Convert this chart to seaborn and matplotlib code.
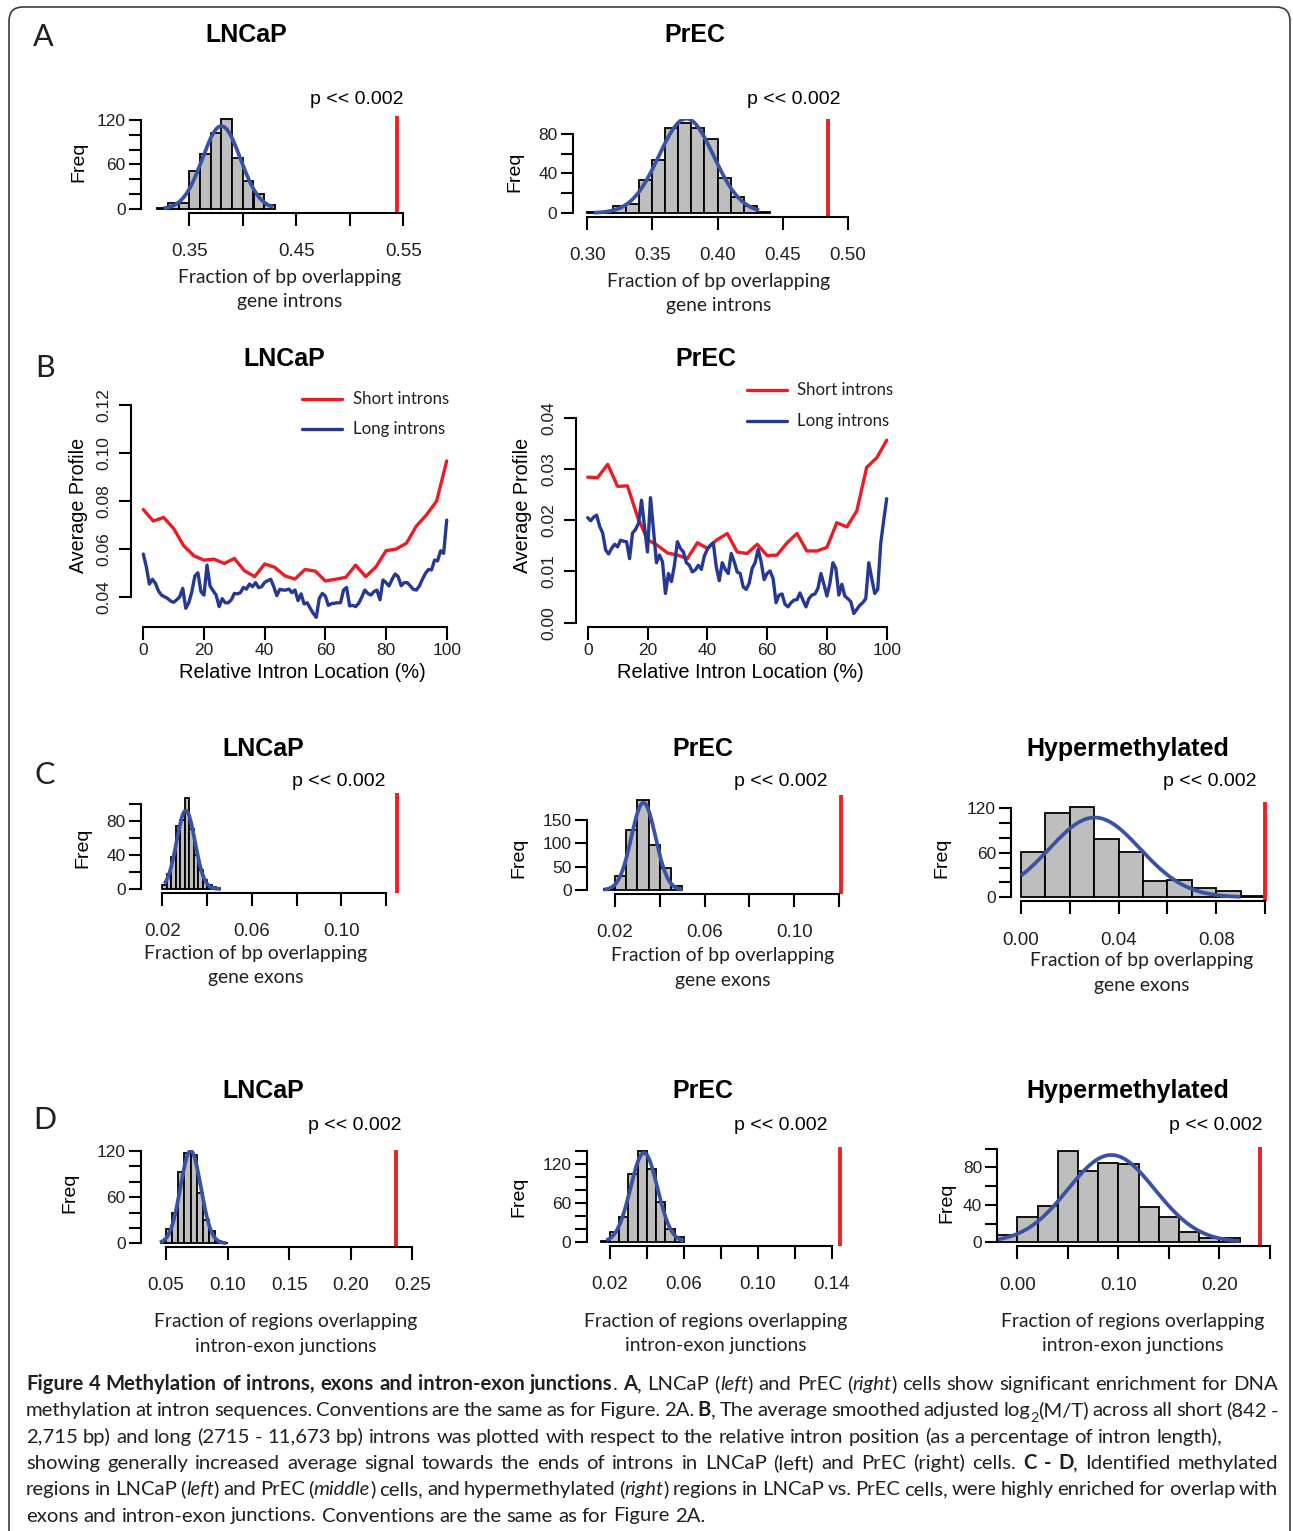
import numpy as np
import pandas as pd
import matplotlib
matplotlib.use("Agg")
import matplotlib.pyplot as plt
import seaborn as sns
from matplotlib.patches import FancyBboxPatch
from matplotlib.lines import Line2D
from matplotlib.transforms import IdentityTransform

# ======================= DATA =======================
# ---- Panel A : LNCaP (introns) ----
A1_BIN_START, A1_BIN_WIDTH = 0.32, 0.01
A1_COUNTS = [2, 8, 8, 51, 74, 103, 121, 69, 38, 20, 5]
A1_FIT = [0.380, 0.0178]          # mean, sd of fitted normal
A1_FIT_RANGE = [0.326, 0.4285]
A1_OBSERVED = 0.544
A1_XTICKS = [0.35, 0.40, 0.45, 0.50, 0.55]
A1_XTICKLABELS = ["0.35", "", "0.45", "", "0.55"]
A1_YTICKS = [0, 20, 40, 60, 80, 100, 120]
A1_YTICKLABELS = ["0", "", "", "60", "", "", "120"]

# ---- Panel A : PrEC (introns) ----
A2_BIN_START, A2_BIN_WIDTH = 0.30, 0.01
A2_COUNTS = [1, 1, 7, 9, 33, 53, 86, 91, 86, 75, 35, 16, 7, 1]
A2_FIT = [0.376, 0.021]
A2_FIT_RANGE = [0.305, 0.432]
A2_OBSERVED = 0.485
A2_XTICKS = [0.30, 0.35, 0.40, 0.45, 0.50]
A2_XTICKLABELS = ["0.30", "0.35", "0.40", "0.45", "0.50"]
A2_YTICKS = [0, 20, 40, 60, 80]
A2_YTICKLABELS = ["0", "", "40", "", "80"]

# ---- Panel B : average profiles ----
B_SHORT_X = [0, 3.3, 6.7, 10, 13.3, 16.7, 20, 23.3, 26.7, 30, 33.3, 36.7, 40, 43.3, 46.7, 50,
             53.3, 56.7, 60, 63.3, 66.7, 70, 73.3, 76.7, 80, 83.3, 86.7, 90, 93.3, 96.7, 100]
B_LONG_X = list(range(0, 101))
B1_SHORT = [0.0765, 0.0717, 0.0732, 0.0686, 0.0614, 0.0572, 0.0554, 0.0558, 0.0540, 0.0561,
            0.0510, 0.0485, 0.0538, 0.0524, 0.0488, 0.0475, 0.0515, 0.0508, 0.0467, 0.0474,
            0.0482, 0.0533, 0.0485, 0.0526, 0.0593, 0.0600, 0.0624, 0.0696, 0.0742, 0.0801, 0.0968]
B1_LONG = [0.0579, 0.0526, 0.0454, 0.0474, 0.0457, 0.0425, 0.0408, 0.0401, 0.0394, 0.0383,
           0.0378, 0.0388, 0.0401, 0.0436, 0.0353, 0.0376, 0.0422, 0.0488, 0.0501, 0.0422,
           0.0408, 0.0533, 0.0446, 0.0426, 0.0408, 0.0360, 0.0393, 0.0376, 0.0376, 0.0388,
           0.0415, 0.0413, 0.0418, 0.0440, 0.0433, 0.0454, 0.0443, 0.0460, 0.0439, 0.0443,
           0.0461, 0.0468, 0.0474, 0.0443, 0.0406, 0.0432, 0.0429, 0.0429, 0.0433, 0.0418,
           0.0429, 0.0385, 0.0413, 0.0371, 0.0376, 0.0353, 0.0332, 0.0315, 0.0394, 0.0415,
           0.0404, 0.0365, 0.0372, 0.0374, 0.0376, 0.0376, 0.0429, 0.0440, 0.0363, 0.0365,
           0.0360, 0.0374, 0.0399, 0.0429, 0.0415, 0.0408, 0.0422, 0.0429, 0.0388, 0.0471,
           0.0460, 0.0446, 0.0474, 0.0496, 0.0485, 0.0447, 0.0460, 0.0460, 0.0446, 0.0432,
           0.0429, 0.0446, 0.0474, 0.0499, 0.0515, 0.0513, 0.0554, 0.0551, 0.0593, 0.0582,
           0.0721]
B2_SHORT = [0.0284, 0.0283, 0.0309, 0.0266, 0.0267, 0.0206, 0.0162, 0.0151, 0.0136, 0.0132,
            0.0125, 0.0156, 0.0145, 0.0162, 0.0174, 0.0138, 0.0135, 0.0153, 0.0131, 0.0132,
            0.0156, 0.0174, 0.0140, 0.0140, 0.0147, 0.0195, 0.0187, 0.0218, 0.0303, 0.0322, 0.0356]
B2_LONG = [0.0205, 0.0199, 0.0206, 0.0210, 0.0188, 0.0175, 0.0142, 0.0134, 0.0145, 0.0153,
           0.0148, 0.0161, 0.0159, 0.0158, 0.0125, 0.0175, 0.0182, 0.0194, 0.0239, 0.0187,
           0.0138, 0.0244, 0.0181, 0.0117, 0.0132, 0.0119, 0.0057, 0.0096, 0.0080, 0.0112,
           0.0158, 0.0145, 0.0138, 0.0117, 0.0112, 0.0099, 0.0103, 0.0112, 0.0104, 0.0130,
           0.0143, 0.0151, 0.0156, 0.0109, 0.0082, 0.0117, 0.0104, 0.0096, 0.0135, 0.0119,
           0.0099, 0.0096, 0.0070, 0.0065, 0.0077, 0.0106, 0.0117, 0.0143, 0.0119, 0.0084,
           0.0096, 0.0101, 0.0086, 0.0039, 0.0054, 0.0056, 0.0036, 0.0031, 0.0039, 0.0044,
           0.0045, 0.0058, 0.0044, 0.0031, 0.0047, 0.0054, 0.0056, 0.0067, 0.0096, 0.0075,
           0.0052, 0.0077, 0.0117, 0.0106, 0.0054, 0.0075, 0.0052, 0.0047, 0.0041, 0.0018,
           0.0026, 0.0034, 0.0039, 0.0047, 0.0117, 0.0086, 0.0057, 0.0065, 0.0155, 0.0200,
           0.0242]
B_XTICKS = [0, 20, 40, 60, 80, 100]
B_XTICKLABELS = ["0", "20", "40", "60", "80", "100"]
B1_YTICKS = [0.04, 0.06, 0.08, 0.10, 0.12]
B1_YTICKLABELS = ["0.04", "0.06", "0.08", "0.10", "0.12"]
B2_YTICKS = [0.00, 0.01, 0.02, 0.03, 0.04]
B2_YTICKLABELS = ["0.00", "0.01", "0.02", "0.03", "0.04"]
B_LEGEND = ["Short introns", "Long introns"]

# ---- Panel C : exons ----
C1_BIN_START, C1_BIN_WIDTH = 0.020, 0.002
C1_COUNTS = [5, 18, 37, 74, 81, 107, 70, 40, 22, 10, 5, 2, 1]
C1_FIT = [0.0305, 0.0041]
C1_FIT_RANGE = [0.021, 0.046]
C1_OBSERVED = 0.1251
C1_XTICKS = [0.02, 0.04, 0.06, 0.08, 0.10, 0.12]
C1_XTICKLABELS = ["0.02", "", "0.06", "", "0.10", ""]
C1_YTICKS = [0, 20, 40, 60, 80, 100]
C1_YTICKLABELS = ["0", "", "40", "", "80", ""]

C2_BIN_START, C2_BIN_WIDTH = 0.015, 0.005
C2_COUNTS = [2, 29, 129, 193, 96, 48, 9]
C2_FIT = [0.0327, 0.0054]
C2_FIT_RANGE = [0.015, 0.050]
C2_OBSERVED = 0.1208
C2_XTICKS = [0.02, 0.04, 0.06, 0.08, 0.10, 0.12]
C2_XTICKLABELS = ["0.02", "", "0.06", "", "0.10", ""]
C2_YTICKS = [0, 50, 100, 150]
C2_YTICKLABELS = ["0", "50", "100", "150"]

C3_BIN_START, C3_BIN_WIDTH = 0.0, 0.01
C3_COUNTS = [61, 113, 122, 78, 61, 22, 23, 13, 9, 2]
C3_FIT = [0.0302, 0.0187]
C3_FIT_RANGE = [0.0, 0.09]
C3_OBSERVED = 0.0999
C3_XTICKS = [0.00, 0.02, 0.04, 0.06, 0.08, 0.10]
C3_XTICKLABELS = ["0.00", "", "0.04", "", "0.08", ""]
C3_YTICKS = [0, 20, 40, 60, 80, 100, 120]
C3_YTICKLABELS = ["0", "", "", "60", "", "", "120"]

# ---- Panel D : intron-exon junctions ----
D1_BIN_START, D1_BIN_WIDTH = 0.045, 0.005
D1_COUNTS = [1, 18, 40, 93, 117, 115, 66, 30, 16, 3, 1]
D1_FIT = [0.070, 0.0083]
D1_FIT_RANGE = [0.045, 0.099]
D1_OBSERVED = 0.2364
D1_XTICKS = [0.05, 0.10, 0.15, 0.20, 0.25]
D1_XTICKLABELS = ["0.05", "0.10", "0.15", "0.20", "0.25"]
D1_YTICKS = [0, 20, 40, 60, 80, 100, 120]
D1_YTICKLABELS = ["0", "", "", "60", "", "", "120"]

D2_BIN_START, D2_BIN_WIDTH = 0.015, 0.005
D2_COUNTS = [1, 16, 39, 104, 140, 112, 62, 20, 8]
D2_FIT = [0.0384, 0.0073]
D2_FIT_RANGE = [0.018, 0.060]
D2_OBSERVED = 0.1443
D2_XTICKS = [0.02, 0.04, 0.06, 0.08, 0.10, 0.12, 0.14]
D2_XTICKLABELS = ["0.02", "", "0.06", "", "0.10", "", "0.14"]
D2_YTICKS = [0, 20, 40, 60, 80, 100, 120, 140]
D2_YTICKLABELS = ["0", "", "", "60", "", "", "120", ""]

D3_BIN_START, D3_BIN_WIDTH = -0.02, 0.02
D3_COUNTS = [8, 27, 39, 97, 76, 85, 84, 38, 27, 11, 5, 5]
D3_FIT = [0.093, 0.043]
D3_FIT_RANGE = [-0.02, 0.22]
D3_OBSERVED = 0.2398
D3_XTICKS = [0.00, 0.05, 0.10, 0.15, 0.20, 0.25]
D3_XTICKLABELS = ["0.00", "", "0.10", "", "0.20", ""]
D3_YTICKS = [0, 20, 40, 60, 80, 100]
D3_YTICKLABELS = ["0", "", "40", "", "80", ""]

P_TEXT = "p << 0.002"

CAPTION_LINES = [
    [("Figure 4 Methylation of introns, exons and intron-exon junctions", "b"), (". ", "n"),
     ("A", "b"), (", LNCaP (", "n"), ("left", "i"), (") and PrEC (", "n"), ("right", "i"),
     (") cells show significant enrichment for DNA", "n")],
    [("methylation at intron sequences. Conventions are the same as for Figure. 2A. ", "n"),
     ("B", "b"), (", The average smoothed adjusted log", "n"), ("2", "sub"),
     ("(M/T) across all short (842 -", "n")],
    [("2,715 bp) and long (2715 - 11,673 bp) introns was plotted with respect to the relative "
      "intron position (as a percentage of intron length),", "n")],
    [("showing generally increased average signal towards the ends of introns in LNCaP (left) "
      "and PrEC (right) cells. ", "n"), ("C - D", "b"), (", Identified methylated", "n")],
    [("regions in LNCaP (", "n"), ("left", "i"), (") and PrEC (", "n"), ("middle", "i"),
     (") cells, and hypermethylated (", "n"), ("right", "i"),
     (") regions in LNCaP vs. PrEC cells, were highly enriched for overlap with", "n")],
    [("exons and intron-exon junctions. Conventions are the same as for Figure 2A.", "n")],
]
CAPTION_JUSTIFY = [True, True, False, True, True, False]

# ======================= STYLE =======================
W, H = 1293, 1531
sns.set_theme(style="ticks")
plt.rcParams['font.family'] = ['Liberation Sans', 'DejaVu Sans']
SANS = ['Liberation Sans', 'DejaVu Sans']
HUM = ['Lato', 'DejaVu Sans']
TXT = '#231F20'
BAR = '#BEBEBE'
FIT_BLUE = '#3953A4'
OBS_RED = '#ED2024'
LINE_RED = '#EC1C24'
LINE_BLUE = '#263893'

fig = plt.figure(figsize=(W / 100, H / 100), dpi=100)
fig.patch.set_facecolor('white')
renderer = fig.canvas.get_renderer()


def measure(s, size, **kw):
    t = fig.text(0, 0, s, fontsize=size, **kw)
    w = t.get_window_extent(renderer=renderer).width
    t.remove()
    return w


def fit_size(s, target, **kw):
    return 20.0 * target / measure(s, 20.0, **kw)


def ftext(x, y, s, **kw):
    kw.setdefault('ha', 'center')
    kw.setdefault('va', 'center')
    kw.setdefault('color', TXT)
    return fig.text(x / W, 1 - y / H, s, **kw)


def make_axes(xmap, ymap, xlim, ylim):
    (xa, pxa), (xb, pxb) = xmap
    sx = (pxb - pxa) / (xb - xa)
    left = pxa + (xlim[0] - xa) * sx
    right = pxa + (xlim[1] - xa) * sx
    (ya, pya), (yb, pyb) = ymap
    sy = (pyb - pya) / (yb - ya)
    bottom = pya + (ylim[0] - ya) * sy
    top = pya + (ylim[1] - ya) * sy
    ax = fig.add_axes([left / W, 1 - bottom / H, (right - left) / W, (bottom - top) / H])
    ax.patch.set_visible(False)
    return ax


def style_axes(ax, xlim, ylim, xt, xtl, yt, ytl, xfs, yfs, xpad, ypad, yrot=0):
    ax.set_xlim(xlim)
    ax.set_ylim(ylim)
    ax.spines[['top', 'right']].set_visible(False)
    for s in ('left', 'bottom'):
        ax.spines[s].set_linewidth(1.5)
        ax.spines[s].set_color('black')
    ax.spines['left'].set_bounds(yt[0], yt[-1])
    ax.spines['bottom'].set_bounds(xt[0], xt[-1])
    ax.set_xticks(xt, labels=xtl)
    ax.set_yticks(yt, labels=ytl)
    ax.tick_params(axis='x', direction='out', length=9, width=1.5, color='black',
                   labelcolor=TXT, labelsize=xfs, pad=xpad)
    ax.tick_params(axis='y', direction='out', length=9, width=1.5, color='black',
                   labelcolor=TXT, labelsize=yfs, pad=ypad, labelrotation=yrot)
    if yrot:
        for lb in ax.get_yticklabels():
            lb.set_va('center')
    ax.set_xlabel('')
    ax.set_ylabel('')
    ax.grid(False)


def hist_panel(start, bw, counts, fit, fit_range, obs, xt, xtl, yt, ytl, lay):
    ax = make_axes(lay['xmap'], lay['ymap'], lay['xlim'], lay['ylim'])
    counts = np.asarray(counts, float)
    edges = start + bw * np.arange(len(counts) + 1)
    df = pd.DataFrame({'value': edges[:-1] + bw / 2, 'count': counts})
    sns.histplot(data=df, x='value', weights='count', bins=edges.tolist(), ax=ax, color=BAR,
                 alpha=1, edgecolor='black', linewidth=1.3)
    n = counts.sum()
    xs = np.linspace(fit_range[0], fit_range[1], 300)
    ys = n * bw * np.exp(-0.5 * ((xs - fit[0]) / fit[1]) ** 2) / (np.sqrt(2 * np.pi) * fit[1])
    ax.plot(xs, ys, color=FIT_BLUE, lw=2.7, solid_capstyle='butt')
    ax.axvline(obs, color=OBS_RED, lw=2.8)
    style_axes(ax, lay['xlim'], lay['ylim'], xt, xtl, yt, ytl, 13.5, 12.5, 13, 2)
    t, tx, ty = lay['title']
    ftext(tx, ty, t, fontsize=18, fontweight='bold', family=SANS, color='black')
    ftext(*lay['p'], P_TEXT, fontsize=14, family=SANS, color='black')
    ftext(*lay['freq'], "Freq", fontsize=14, rotation=90, family=SANS, color='black')
    lines, lx, ly = lay['xlab']
    for i, ln in enumerate(lines):
        ftext(lx, ly + i * 24.5, ln, fontsize=XLAB_FS, family=HUM)
    return ax


XLAB_FS = fit_size("Fraction of bp overlapping", 224, family=HUM)

HIST_LAYOUT = {
    'A1': dict(xmap=((0.35, 189.3), (0.55, 403.3)), ymap=((0, 209), (120, 120)),
               xlim=(0.305, 0.56), ylim=(-4.84, 125.84), title=("LNCaP", 246, 35),
               p=(357, 99), freq=(79, 162),
               xlab=(["Fraction of bp overlapping", "gene introns"], 290, 277)),
    'A2': dict(xmap=((0.30, 587.3), (0.50, 847.7)), ymap=((0, 213), (80, 133.7)),
               xlim=(0.2888, 0.505), ylim=(-3.64, 94.64), title=("PrEC", 695, 35),
               p=(794, 99), freq=(515, 172),
               xlab=(["Fraction of bp overlapping", "gene introns"], 719, 281)),
    'C1': dict(xmap=((0.02, 162.3), (0.12, 386)), ymap=((0, 889), (80, 820.7)),
               xlim=(0.0106, 0.1294), ylim=(-4.3, 112), title=("LNCaP", 263, 749),
               p=(339, 781), freq=(83, 848),
               xlab=(["Fraction of bp overlapping", "gene exons"], 256, 953)),
    'C2': dict(xmap=((0.02, 615), (0.12, 839)), ymap=((0, 890), (150, 820)),
               xlim=(0.0076, 0.1254), ylim=(-7.8, 203.8), title=("PrEC", 703, 749),
               p=(781, 781), freq=(519, 858),
               xlab=(["Fraction of bp overlapping", "gene exons"], 723, 956)),
    'C3': dict(xmap=((0.0, 1021), (0.10, 1265)), ymap=((0, 897.3), (120, 808.3)),
               xlim=(-0.004, 0.104), ylim=(-4.92, 127.92), title=("Hypermethylated", 1128, 749),
               p=(1210, 781), freq=(942, 858),
               xlab=(["Fraction of bp overlapping", "gene exons"], 1142, 961)),
    'D1': dict(xmap=((0.05, 166), (0.25, 412.3)), ymap=((0, 1243.3), (120, 1151)),
               xlim=(0.0297, 0.258), ylim=(-4.68, 121.7), title=("LNCaP", 263, 1091),
               p=(355, 1125), freq=(70, 1193),
               xlab=(["Fraction of regions overlapping", "intron-exon junctions"], 286, 1322)),
    'D2': dict(xmap=((0.02, 610), (0.14, 831.7)), ymap=((0, 1242), (120, 1164)),
               xlim=(0.0074, 0.150), ylim=(-5.6, 145.6), title=("PrEC", 703, 1091),
               p=(781, 1125), freq=(519, 1197),
               xlab=(["Fraction of regions overlapping", "intron-exon junctions"], 716, 1321)),
    'D3': dict(xmap=((0.0, 1017.3), (0.25, 1270)), ymap=((0, 1242.3), (80, 1167.3)),
               xlim=(-0.0198, 0.26), ylim=(-3.92, 101.9), title=("Hypermethylated", 1128, 1091),
               p=(1216, 1125), freq=(947, 1203),
               xlab=(["Fraction of regions overlapping", "intron-exon junctions"], 1133, 1321)),
}

hist_panel(A1_BIN_START, A1_BIN_WIDTH, A1_COUNTS, A1_FIT, A1_FIT_RANGE, A1_OBSERVED,
           A1_XTICKS, A1_XTICKLABELS, A1_YTICKS, A1_YTICKLABELS, HIST_LAYOUT['A1'])
hist_panel(A2_BIN_START, A2_BIN_WIDTH, A2_COUNTS, A2_FIT, A2_FIT_RANGE, A2_OBSERVED,
           A2_XTICKS, A2_XTICKLABELS, A2_YTICKS, A2_YTICKLABELS, HIST_LAYOUT['A2'])
hist_panel(C1_BIN_START, C1_BIN_WIDTH, C1_COUNTS, C1_FIT, C1_FIT_RANGE, C1_OBSERVED,
           C1_XTICKS, C1_XTICKLABELS, C1_YTICKS, C1_YTICKLABELS, HIST_LAYOUT['C1'])
hist_panel(C2_BIN_START, C2_BIN_WIDTH, C2_COUNTS, C2_FIT, C2_FIT_RANGE, C2_OBSERVED,
           C2_XTICKS, C2_XTICKLABELS, C2_YTICKS, C2_YTICKLABELS, HIST_LAYOUT['C2'])
hist_panel(C3_BIN_START, C3_BIN_WIDTH, C3_COUNTS, C3_FIT, C3_FIT_RANGE, C3_OBSERVED,
           C3_XTICKS, C3_XTICKLABELS, C3_YTICKS, C3_YTICKLABELS, HIST_LAYOUT['C3'])
hist_panel(D1_BIN_START, D1_BIN_WIDTH, D1_COUNTS, D1_FIT, D1_FIT_RANGE, D1_OBSERVED,
           D1_XTICKS, D1_XTICKLABELS, D1_YTICKS, D1_YTICKLABELS, HIST_LAYOUT['D1'])
hist_panel(D2_BIN_START, D2_BIN_WIDTH, D2_COUNTS, D2_FIT, D2_FIT_RANGE, D2_OBSERVED,
           D2_XTICKS, D2_XTICKLABELS, D2_YTICKS, D2_YTICKLABELS, HIST_LAYOUT['D2'])
hist_panel(D3_BIN_START, D3_BIN_WIDTH, D3_COUNTS, D3_FIT, D3_FIT_RANGE, D3_OBSERVED,
           D3_XTICKS, D3_XTICKLABELS, D3_YTICKS, D3_YTICKLABELS, HIST_LAYOUT['D3'])

# ---- Panel B line plots ----
B_LAYOUT = [
    dict(xmap=((0, 143.3), (100, 446.7)), ymap=((0.04, 597), (0.12, 405.3)),
         xlim=(-4, 104), ylim=(0.0276, 0.1235), title=("LNCaP", 284, 359),
         ylab=(78, 505), xlab=(302, 672), leg=(301.7, 341.7, 353, 399, 429),
         short=B1_SHORT, long=B1_LONG, yt=B1_YTICKS, ytl=B1_YTICKLABELS),
    dict(xmap=((0, 587.7), (100, 886.7)), ymap=((0.0, 622.7), (0.04, 417.7)),
         xlim=(-4, 104), ylim=(-0.0008, 0.0416), title=("PrEC", 706, 359),
         ylab=(522, 505), xlab=(740, 672), leg=(746.7, 786.7, 797, 390, 421),
         short=B2_SHORT, long=B2_LONG, yt=B2_YTICKS, ytl=B2_YTICKLABELS),
]
LEG_FS = fit_size("Short introns", 96, family=HUM)
for lay in B_LAYOUT:
    ax = make_axes(lay['xmap'], lay['ymap'], lay['xlim'], lay['ylim'])
    df_s = pd.DataFrame({'pos': B_SHORT_X, 'profile': lay['short']})
    df_l = pd.DataFrame({'pos': B_LONG_X, 'profile': lay['long']})
    sns.lineplot(data=df_s, x='pos', y='profile', ax=ax, color=LINE_RED, lw=2.4, sort=False,
                 errorbar=None)
    sns.lineplot(data=df_l, x='pos', y='profile', ax=ax, color=LINE_BLUE, lw=2.4, sort=False,
                 errorbar=None)
    style_axes(ax, lay['xlim'], lay['ylim'], B_XTICKS, B_XTICKLABELS, lay['yt'], lay['ytl'],
               12.5, 12.5, 3, 5, yrot=90)
    t, tx, ty = lay['title']
    ftext(tx, ty, t, fontsize=18, fontweight='bold', family=SANS, color='black')
    ftext(*lay['ylab'], "Average Profile", fontsize=14.2, rotation=90, family=SANS, color='black')
    ftext(*lay['xlab'], "Relative Intron Location (%)", fontsize=14.4, family=SANS, color='black')
    x0, x1, tx0, y_s, y_l = lay['leg']
    for yy, col, lab in ((y_s, LINE_RED, B_LEGEND[0]), (y_l, LINE_BLUE, B_LEGEND[1])):
        fig.add_artist(Line2D([x0 / W, x1 / W], [1 - yy / H, 1 - yy / H],
                              transform=fig.transFigure, color=col, lw=2.4))
        ftext(tx0, yy, lab, fontsize=LEG_FS, family=HUM, ha='left')

# ---- Panel letters ----
for letter, lx, ly in (("A", 43, 37), ("B", 45, 368), ("C", 45, 775), ("D", 45, 1120)):
    ftext(lx, ly, letter, fontsize=22, family=HUM)

# ---- Caption ----
STYLE_KW = {'n': {}, 'b': {'fontweight': 'bold'}, 'i': {'fontstyle': 'italic'}, 'sub': {}}
CAP_X0, CAP_X1, CAP_Y0, CAP_DY = 26, 1278, 1390, 26.3
_fs3 = fit_size("".join(s for s, _ in CAPTION_LINES[2]), 1178, family=HUM)
_fs4 = fit_size("".join(s for s, _ in CAPTION_LINES[3]), 1245, family=HUM)
CAP_FS = 0.5 * (_fs3 + _fs4)


def piece_size(st):
    return CAP_FS * 0.7 if st == 'sub' else CAP_FS


space_w = measure("a a", CAP_FS, family=HUM) - measure("aa", CAP_FS, family=HUM)
for i, line in enumerate(CAPTION_LINES):
    words = [[]]
    for text, st in line:
        parts = text.split(' ')
        for k, p in enumerate(parts):
            if k > 0:
                words.append([])
            if p:
                words[-1].append((p, st))
    words = [w for w in words if w]
    pw = [[measure(p, piece_size(st), family=HUM, **STYLE_KW[st]) for p, st in w] for w in words]
    ww = [sum(x) for x in pw]
    if CAPTION_JUSTIFY[i] and len(words) > 1:
        gap = (CAP_X1 - CAP_X0 - sum(ww)) / (len(words) - 1)
    else:
        gap = space_w
    x = CAP_X0
    y = CAP_Y0 + i * CAP_DY
    for w, widths, wtot in zip(words, pw, ww):
        xx = x
        for (p, st), pwid in zip(w, widths):
            yy = y + (CAP_FS * 0.42 if st == 'sub' else 0)
            fig.text(xx / W, 1 - yy / H, p, fontsize=piece_size(st), family=HUM, ha='left',
                     va='baseline', color=TXT, **STYLE_KW[st])
            xx += pwid
        x += wtot + gap

# ---- Frame ----
frame = FancyBboxPatch((9, -30), 1281, H - 7 + 30, boxstyle="round,pad=0,rounding_size=14",
                       transform=IdentityTransform(), fill=False, ec='#3C3C3C', lw=1.2)
fig.add_artist(frame)

fig.savefig("out.png", dpi=100)
